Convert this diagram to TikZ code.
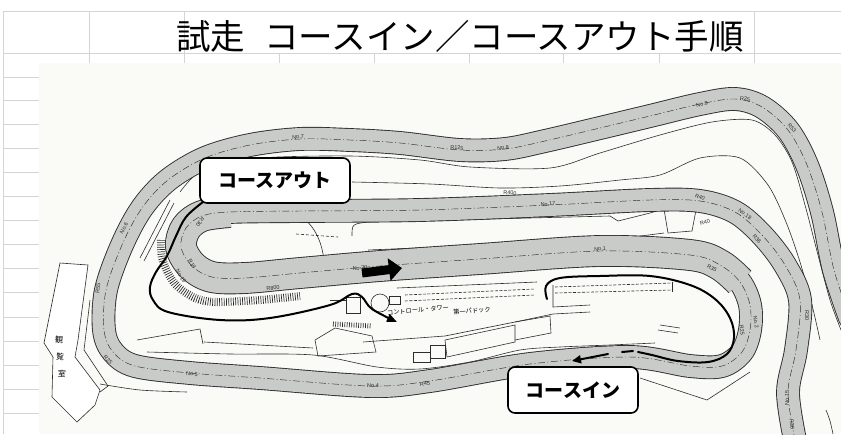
\documentclass[tikz,border=0pt]{standalone}
\usepackage{fontspec}
\newfontfamily\jp{Noto Sans CJK JP}
\newfontfamily\lab{Liberation Sans}
\usetikzlibrary{arrows.meta}
\definecolor{trk}{RGB}{201,203,201}
\definecolor{gridc}{RGB}{212,212,212}
\definecolor{paper}{RGB}{250,250,247}
\definecolor{ink}{RGB}{45,45,45}
\tikzset{
  gridline/.style={draw=gridc, line width=0.9pt},
  bandedge/.style={draw=ink, line width=#1, line cap=round, line join=round},
  bandfill/.style={draw=trk, line width=#1, line cap=round, line join=round},
  cline/.style={draw=ink, line width=0.45pt, dash pattern=on 7pt off 2.5pt on 1pt off 2.5pt},
  fineline/.style={draw=ink, line width=0.6pt},
  lbl/.style={font=\lab\fontsize{5.5}{5.5}\selectfont, text=ink, inner sep=0pt},
  course/.style={draw=black, line width=2pt, line cap=round, line join=round},
  callout/.style={draw=black, line width=1.6pt, fill=white, rounded corners=7pt, inner sep=0pt, font=\jp\bfseries\fontsize{19}{19}\selectfont},
  hatchband/.style={draw=ink, line width=#1, dash pattern=on 0.7pt off 1.6pt},
}
\def\trackfull{plot[smooth,tension=0.55] coordinates {(850,318) (834,270) (822,212) (807,165) (788,130) (762,107) (735,99) (700,104) (650,116) (600,128) (545,141) (505,149) (460,150) (400,143) (350,140) (300,139) (250,145) (205,158) (168,180) (142,208) (122,245) (106,290) (104,330) (113,352) (135,366) (190,373) (260,378) (370,386) (430,381) (530,364) (630,357) (690,366) (722,366) (742,352) (750,330) (750,305) (740,282) (720,265) (690,255) (600,251) (480,259) (380,266) (300,273) (245,278) (212,277) (192,266) (181,247) (186,228) (202,216) (230,212) (300,211) (420,210) (550,205) (650,200) (700,201) (735,212) (762,235) (785,265) (800,300) (796,350) (788,392) (795,440)}}
\def\trackwide{plot[smooth,tension=0.55] coordinates {(740,282) (720,265) (690,255) (600,251) (480,259) (380,266) (300,273) (245,278) (212,277) (192,266) (181,247) (186,228) (202,216) (230,212)}}
\begin{document}
\begin{tikzpicture}[x=1pt,y=-1pt]
\useasboundingbox (0,0) rectangle (841,434);
\fill[white] (0,0) rectangle (841,434);
% spreadsheet grid
\draw[gridline] (3,11) -- (841,11);
\draw[gridline] (3,53) -- (841,53);
\draw[gridline] (3,11) -- (3,434);
\foreach \gx in {89,184,754} {\draw[gridline] (\gx,11) -- (\gx,63);}
\foreach \gx in {279,374,469,563,659} {\draw[gridline] (\gx,53) -- (\gx,63);}
\foreach \gy in {77,100,124,148,172,196,220,244,268,292,317,341,365,389,413} {\draw[gridline] (3,\gy) -- (39,\gy);}
% title
\node[font=\jp\fontsize{34.5}{34.5}\selectfont, inner sep=0pt] (title) at (460,36) {試走\hspace{0.55em}コースイン／コースアウト手順};
% map paper
\fill[paper] (39,63) rectangle (841,434);
% environment lines
\draw[fineline] plot[smooth,tension=0.5] coordinates {(180,192) (205,168) (260,158) (350,156) (420,160) (470,167) (550,168) (600,153) (660,135) (712,122) (752,120) (775,135) (792,162) (805,205) (818,255) (830,300) (841,330)};
\draw[fineline] plot[smooth,tension=0.5] coordinates {(352,182) (430,184) (500,188) (560,186) (620,180) (660,175) (700,158) (740,158) (768,185) (786,222) (800,262) (812,305) (820,340)};
\draw[fineline] (170,200) -- (140,258);
\draw[fineline] (174,203) -- (144,261);
% hairpin island
\draw[fineline] (300,216) .. controls (316,226) and (322,244) .. (324,260);
\draw[fineline, dash pattern=on 3pt off 2pt] (296,234) -- (338,237);
\draw[fineline] (352,236) .. controls (352,224) .. (368,222) -- (610,216) -- (618,221) -- (650,213) -- (664,209);
\draw[fineline] (368,250) -- (610,240) -- (664,233);
\draw[fineline] (664,209) -- (668,233) -- (692,231) -- (696,210);
\draw[fineline, dash pattern=on 2pt off 1.5pt] (664,209) .. controls (680,204) .. (696,210);
% spectator building
\draw[fineline, fill=white] (60,263) -- (88,265) -- (78,340) -- (75,357) -- (100,390) -- (95,405) -- (77,422) -- (52,397) -- (53,357) -- (44,343) -- cycle;
\draw[fineline] (90,300) -- (84,350) -- (108,386) -- (100,392);
\node[font=\jp\fontsize{8}{8}\selectfont, inner sep=0pt, rotate=-5] (kan) at (59,340) {観};
\node[font=\jp\fontsize{8}{8}\selectfont, inner sep=0pt, rotate=-5] (ran) at (60,357) {覧};
\node[font=\jp\fontsize{8}{8}\selectfont, inner sep=0pt, rotate=-5] (shitsu) at (62,374) {室};
% outlines near bottom band
\draw[fineline] plot[smooth] coordinates {(100,384) (140,390) (187,392)};
\draw[fineline] plot[smooth,tension=0.5] coordinates {(147,352) (230,354) (313,355) (377,367) (420,369) (470,362) (520,350) (560,347) (610,345) (655,343)};
\draw[fineline] (204,342) -- (313,348);
\draw[fineline] (137,340) -- (200,329) -- (203,344);
\draw[fineline] (315,340) -- (335,328) -- (372,336) -- (376,352) -- (318,356) -- cycle;
\draw[fineline] (640,378) -- (707,400) -- (750,372);
\draw[fineline] (658,330) -- (678,333);
\draw[fineline] (660,325) -- (680,328);
\draw[fineline] (826,410) .. controls (830,420) .. (833,434);
% pit area
\draw[fineline] (397,288) -- (537,282);
\draw[fineline, dash pattern=on 3pt off 1.5pt] (405,295) -- (535,289);
\draw[fineline, dash pattern=on 3pt off 1.5pt] (405,301) -- (535,295);
\draw[fineline, dash pattern=on 3pt off 1.5pt] (555,287) -- (672,283);
\draw[fineline, dash pattern=on 3pt off 1.5pt] (555,293) -- (672,290);
\draw[fineline] (553,285) -- (553,307) -- (590,305);
\draw[fineline] (672,282) -- (672,292);
\draw[fineline] (380,303) circle (9);
\draw[fineline] (389,296) rectangle (400,304);
\draw[fineline] (346,297) rectangle (360,313);
\draw[fineline] (330,300) -- (346,300);
\draw[hatchband=5] (333,324) -- (372,326);
\draw[fineline] (363,342) -- (445,336) -- (515,322) -- (553,314) -- (590,312);
\draw[fineline] (445,340) -- (515,325) -- (515,342) -- (447,357) -- cycle;
\draw[fineline] (515,322) -- (550,316) -- (551,333) -- (515,340);
\draw[fineline] (413,352) rectangle (430,362);
\draw[fineline] (430,345) rectangle (445,358);
% hatched kerb outside left hairpin
\draw[hatchband=8] plot[smooth,tension=0.5] coordinates {(161,240) (162,258) (169,275) (178,287) (195,298) (215,302) (260,300) (300,296)};
% track
\draw[bandedge=23.8] \trackfull;
\draw[bandedge=31.8, line cap=butt] \trackwide;
\draw[bandfill=22] \trackfull;
\draw[bandfill=30, line cap=butt] \trackwide;
\draw[cline] \trackfull;
% track labels
\node[lbl, rotate=2] (l1) at (298,137) {No.7};
\node[lbl, rotate=-2] (l2) at (457,148) {R125};
\node[lbl, rotate=2] (l3) at (503,148) {No.8};
\node[lbl, rotate=12] (l4) at (702,104) {No.9};
\node[lbl, rotate=-5] (l5) at (745,99) {R25};
\node[lbl, rotate=-50] (l6) at (792,128) {R53};
\node[lbl, rotate=62] (l7) at (124,228) {No.6};
\node[lbl, rotate=85] (l8) at (98,288) {R55};
\node[lbl, rotate=-45] (l9) at (108,360) {R25};
\node[lbl, rotate=-3] (l10) at (192,374) {No.5};
\node[lbl] (l11) at (373,386) {No.4};
\node[lbl, rotate=5] (l12) at (425,384) {R45};
\node[lbl, rotate=-80] (l13) at (742,330) {R25};
\node[lbl, rotate=-80] (l14) at (756,322) {No.2};
\node[lbl, rotate=-30] (l15) at (712,268) {R35};
\node[lbl, rotate=2] (l16) at (600,249) {No.1};
\node[lbl, rotate=3] (l17) at (360,268) {No.20};
\node[lbl, rotate=5] (l18) at (273,288) {R800};
\node[lbl, rotate=-60] (l19) at (192,264) {R18};
\node[lbl, rotate=-60] (l20) at (181,276) {No.19};
\node[lbl, rotate=235] (l21) at (200,222) {R30};
\node[lbl, rotate=-2] (l22) at (510,193) {R400};
\node[lbl, rotate=3] (l23) at (548,204) {No.17};
\node[lbl, rotate=-20] (l24) at (700,197) {R40};
\node[lbl, rotate=15] (l25) at (705,222) {R40};
\node[lbl, rotate=-35] (l26) at (745,214) {No.18};
\node[lbl, rotate=-50] (l27) at (757,239) {R36};
\node[lbl, rotate=-90] (l28) at (807,316) {R30};
\node[lbl, rotate=90] (l29) at (787,398) {No.15};
\node[lbl, rotate=-85] (l30) at (792,424) {R30};
\node[font=\jp\fontsize{6.2}{6.2}\selectfont, inner sep=0pt, rotate=5] (tower) at (418,310) {コントロール・タワー};
\node[font=\jp\fontsize{6.2}{6.2}\selectfont, inner sep=0pt, rotate=5] (paddock) at (472,311) {第一パドック};
% big direction arrow
\coordinate (blkA) at (362,273);
\coordinate (blkB) at (402,268);
\draw[line width=9pt, -{Triangle[length=13pt,width=22pt]}] (blkA) -- (blkB);
% callouts
\node[callout, minimum width=150pt, minimum height=45pt] (outbox) at (275,180.5) {コースアウト};
\node[callout, minimum width=130pt, minimum height=46pt] (inbox) at (573,390) {コースイン};
% course out line
\coordinate (outA) at (203,202);
\coordinate (outB) at (397,322);
\draw[course, -{Triangle[length=10pt,width=8pt]}] plot[smooth,tension=0.6] coordinates {(outA) (186,217) (176,236) (167,256) (156,272) (150,287) (153,300) (168,312) (220,320) (270,318) (330,305) (352,294) (362,297) (372,309) (outB)};
% course in line
\coordinate (inA) at (547,299);
\coordinate (inB) at (638,352);
\draw[course] plot[smooth,tension=0.6] coordinates {(inA) (546,286) (560,278) (600,276) (650,276) (690,285) (715,299) (730,318) (734,338) (727,354) (708,362) (678,361) (652,355) (inB)};
\coordinate (inC) at (622,352);
\coordinate (inD) at (633,351);
\draw[course] (inC) -- (inD);
\coordinate (inE) at (608,354);
\coordinate (inF) at (572,361);
\draw[course, -{Triangle[length=9pt,width=8pt]}] (inE) -- (inF);
\end{tikzpicture}
\end{document}
